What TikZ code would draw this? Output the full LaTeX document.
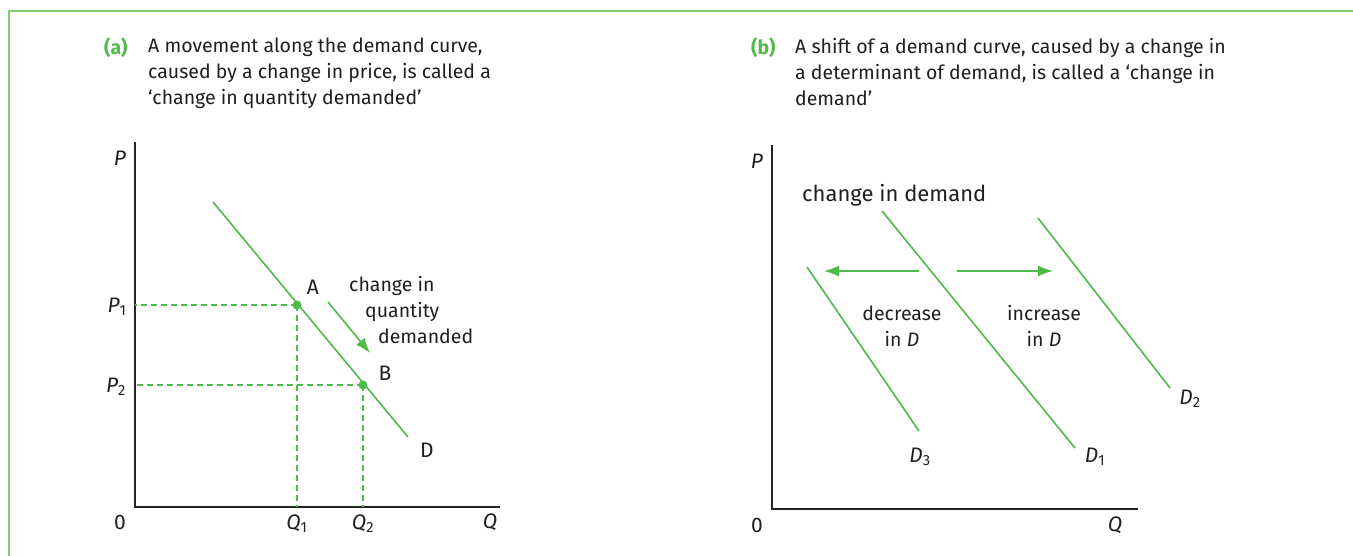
\documentclass[tikz,border=0pt]{standalone}
\usepackage{fontspec}
\setmainfont{Fira Sans}
\usetikzlibrary{arrows.meta,positioning}
\definecolor{dgreen}{RGB}{78,186,74}
\definecolor{fgreen}{RGB}{128,204,110}

\begin{document}
\begin{tikzpicture}[x=1pt, y=-1pt, font=\fontsize{19.5}{26}\selectfont, >={Latex[length=15pt,width=11pt]},
  curve/.style={dgreen, line width=1.6pt},
  guide/.style={dgreen, line width=1.4pt, dash pattern=on 6pt off 4pt},
  axis/.style={black!85, line width=1.8pt},
  dot/.style={circle, fill=dgreen, inner sep=0pt, minimum size=9pt},
  lbl/.style={inner sep=0pt, text=black!88},
  ax/.style={lbl, font=\fontsize{21}{26}\selectfont},
  title/.style={anchor=north west, align=left, inner sep=0pt, text=black!88}]
\useasboundingbox (0,0) rectangle (1353,556);
\draw[fgreen, line width=1.5pt] (1353,11) -- (9,11) -- (9,556);

% (a) movement along the curve
\node[lbl, anchor=north west, text=dgreen, font=\fontsize{19.5}{26}\selectfont\bfseries] (ta) at (104,38) {(a)};
\node[title] (tta) at (148,38) {A movement along the demand curve,\\caused by a change in price, is called a\\`change in quantity demanded'};
\coordinate (Oa) at (135,507);
\draw[axis] (135,142) -- (Oa) -- (500,507);
\node[ax] (Pa) at (120,158) {\itshape P};
\node[ax] (Za) at (120,522) {0};
\node[ax] (Qa) at (490,522) {\itshape Q};
\coordinate (Dtop) at (213,202);
\coordinate (Dend) at (408,437);
\draw[curve] (Dtop) -- (Dend);
\node[dot] (A) at (297,305) {};
\node[dot] (B) at (363,385) {};
\draw[guide] (A.center) -- (A.center -| Oa);
\draw[guide] (B.center) -- (B.center -| Oa);
\draw[guide] (A.center) -- (A.center |- Oa);
\draw[guide] (B.center) -- (B.center |- Oa);
\node[ax] (P1) at (117,307) {{\itshape P}\textsubscript{1}};
\node[ax] (P2) at (116,387) {{\itshape P}\textsubscript{2}};
\node[ax] (Q1) at (297,524) {{\itshape Q}\textsubscript{1}};
\node[ax] (Q2) at (363,524) {{\itshape Q}\textsubscript{2}};
\node[ax] (LA) at (313,287) {A};
\node[ax] (LB) at (385,373) {B};
\node[ax] (LD) at (427,450) {D};
\coordinate (m1) at (328,302);
\coordinate (m2) at (370,353);
\draw[curve, ->] (m1) -- (m2);
\node[title] (cq) at (349,276) {change in\\\hspace{16pt}quantity\\\hspace{29pt}demanded};

% (b) shift of the curve
\node[lbl, anchor=north west, text=dgreen, font=\fontsize{19.5}{26}\selectfont\bfseries] (tb) at (751,38) {(b)};
\node[title] (ttb) at (795,38) {A shift of a demand curve, caused by a change in\\a determinant of demand, is called a `change in\\demand'};
\coordinate (Ob) at (772,509);
\draw[axis] (772,145) -- (Ob) -- (1138,509);
\node[ax] (Pb) at (757,161) {\itshape P};
\node[ax] (Zb) at (757,525) {0};
\node[ax] (Qb) at (1115,525) {\itshape Q};
\node[lbl, anchor=west, font=\fontsize{22}{26}\selectfont] (cd) at (802,195) {change in demand};
\coordinate (D1a) at (882,211);
\coordinate (D1b) at (1075,448);
\coordinate (D2a) at (1038,218);
\coordinate (D2b) at (1170,388);
\coordinate (D3a) at (807,267);
\coordinate (D3b) at (919,431);
\draw[curve] (D1a) -- (D1b);
\draw[curve] (D2a) -- (D2b);
\draw[curve] (D3a) -- (D3b);
\coordinate (s0) at (919,271);
\coordinate (s1) at (824,271);
\coordinate (s2) at (957,271);
\coordinate (s3) at (1053,271);
\draw[curve, ->] (s0) -- (s1);
\draw[curve, ->] (s2) -- (s3);
\node[lbl, align=center] (dec) at (902,326) {decrease\\in {\itshape D}};
\node[lbl, align=center] (inc) at (1044,326) {increase\\in {\itshape D}};
\node[ax] (L3) at (920,457) {{\itshape D}\textsubscript{3}};
\node[ax] (L1) at (1095,457) {{\itshape D}\textsubscript{1}};
\node[ax] (L2) at (1190,399) {{\itshape D}\textsubscript{2}};
\end{tikzpicture}
\end{document}
